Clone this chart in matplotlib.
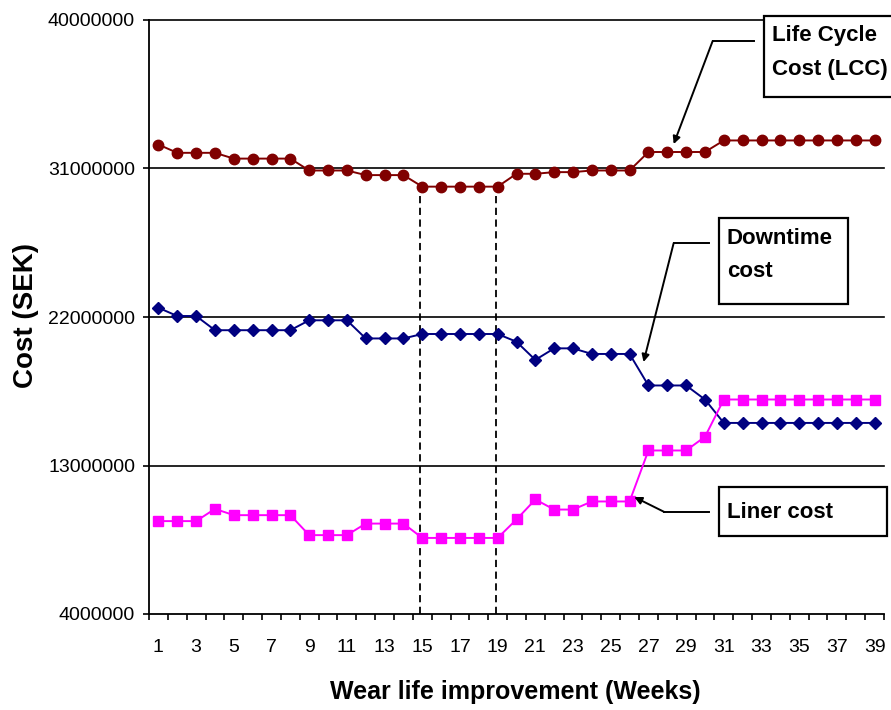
"""Wear life improvement vs. cost: LCC, downtime and liner cost curves."""

import matplotlib

matplotlib.use("Agg")
from matplotlib import pyplot as plt  # noqa: E402
from matplotlib.patches import Rectangle  # noqa: E402

weeks = list(range(1, 40))

lcc_cost = [
    32.45, 31.95, 31.95, 31.95, 31.6, 31.6, 31.6, 31.6, 30.88, 30.88,
    30.88, 30.6, 30.6, 30.6, 29.9, 29.9, 29.9, 29.9, 29.9, 30.68,
    30.68, 30.78, 30.78, 30.88, 30.88, 30.88, 32.0, 32.0, 32.0, 32.0,
    32.7, 32.7, 32.7, 32.7, 32.7, 32.7, 32.7, 32.7, 32.7,
]
downtime_cost = [
    22.56, 22.06, 22.06, 21.2, 21.2, 21.2, 21.2, 21.2, 21.8, 21.8,
    21.8, 20.7, 20.7, 20.7, 20.97, 20.97, 20.97, 20.97, 20.97, 20.5,
    19.4, 20.1, 20.1, 19.76, 19.76, 19.76, 17.85, 17.85, 17.85, 17.0,
    15.58, 15.58, 15.58, 15.58, 15.58, 15.58, 15.58, 15.58, 15.58,
]
liner_cost = [
    9.63, 9.63, 9.63, 10.37, 9.99, 9.99, 9.99, 9.99, 8.78, 8.78,
    8.78, 9.48, 9.48, 9.48, 8.61, 8.61, 8.61, 8.61, 8.61, 9.73,
    10.94, 10.33, 10.33, 10.82, 10.82, 10.82, 13.91, 13.91, 13.91, 14.74,
    17.0, 17.0, 17.0, 17.0, 17.0, 17.0, 17.0, 17.0, 17.0,
]
y_ticks = [4000000, 13000000, 22000000, 31000000, 40000000]
optimum_weeks = [15, 19]

FONT = "Liberation Sans"
W, H = 891, 710


def fig_xy(px, py):
    return px / W, 1 - py / H


def draw_label(fig, box, lines, text_x, line_ys):
    x0, y0 = fig_xy(box[0], box[3])
    x1, y1 = fig_xy(box[2], box[1])
    fig.add_artist(Rectangle((x0, y0), x1 - x0, y1 - y0, transform=fig.transFigure,
                             facecolor="white", edgecolor="black", linewidth=1.6, zorder=5))
    for line, ly in zip(lines, line_ys):
        tx, ty = fig_xy(text_x, ly)
        fig.text(tx, ty, line, family=FONT, fontsize=16, fontweight="bold",
                 ha="left", va="center", zorder=6)


def draw_pointer(ax, start, bend, tip):
    ax.plot([start[0], bend[0]], [start[1], bend[1]], color="black", linewidth=1.4,
            clip_on=False, zorder=4)
    ax.annotate("", xy=tip, xytext=bend, zorder=4, annotation_clip=False,
                arrowprops=dict(arrowstyle="-|>", color="black", linewidth=1.4,
                                mutation_scale=11, shrinkA=0, shrinkB=0))


fig = plt.figure(figsize=(W / 100, H / 100), dpi=100)
ax = fig.add_axes([149 / W, 1 - 614 / H, (884 - 149) / W, (614 - 20) / H])

ax.set_xlim(0.5, 39.5)
ax.set_ylim(y_ticks[0], y_ticks[-1])

for y in y_ticks[1:]:
    ax.axhline(y, color="black", linewidth=1.2, zorder=1, clip_on=False)

ax.plot(weeks, [v * 1e6 for v in lcc_cost], color="#800000", marker="o", markersize=7.5,
        linewidth=1.4, zorder=3, clip_on=False)
ax.plot(weeks, [v * 1e6 for v in downtime_cost], color="#000080", marker="D", markersize=6,
        linewidth=1.4, zorder=3, clip_on=False)
ax.plot(weeks, [v * 1e6 for v in liner_cost], color="#FF00FF", marker="s", markersize=7.5,
        linewidth=1.4, zorder=3, clip_on=False)

for wk in optimum_weeks:
    ax.vlines(wk - 0.1, y_ticks[0], lcc_cost[wk - 1] * 1e6, colors="black",
              linestyles=(0, (4, 2.5)), linewidth=1.3, zorder=2)

for side in ("top", "right"):
    ax.spines[side].set_visible(False)
for side in ("left", "bottom"):
    ax.spines[side].set_linewidth(1.3)

ax.set_yticks(y_ticks)
ax.set_yticklabels([str(v) for v in y_ticks], family=FONT, fontsize=14)
ax.tick_params(axis="y", direction="out", length=4, width=1.2, pad=6)

ax.set_xticks([w + 0.5 for w in range(0, 40)])
ax.set_xticklabels([])
ax.tick_params(axis="x", which="major", direction="out", length=4, width=1.2)
ax.set_xticks(weeks[::2], minor=True)
ax.set_xticklabels([str(w) for w in weeks[::2]], minor=True, family=FONT, fontsize=14)
ax.tick_params(axis="x", which="minor", length=0, pad=18)

fig.text(515 / W, 1 - 692 / H, "Wear life improvement (Weeks)", family=FONT, fontsize=18,
         fontweight="bold", ha="center", va="center")
fig.text(26 / W, 1 - 315 / H, "Cost (SEK)", family=FONT, fontsize=20, fontweight="bold",
         rotation=90, ha="center", va="center")

draw_label(fig, (764, 16, 900, 97), ["Life Cycle", "Cost (LCC)"], 772, [35, 70])
draw_label(fig, (719, 218, 848, 304), ["Downtime", "cost"], 727, [238, 272])
draw_label(fig, (719, 487, 887, 536), ["Liner cost"], 727, [512])

draw_pointer(ax, (32.59, 38.73e6), (30.41, 38.73e6), (28.34, 32.48e6))
draw_pointer(ax, (30.19, 26.48e6), (28.34, 26.48e6), (26.74, 19.27e6))
draw_pointer(ax, (30.19, 10.18e6), (27.85, 10.18e6), (26.25, 11.09e6))

fig.savefig("out.png", dpi=100)
